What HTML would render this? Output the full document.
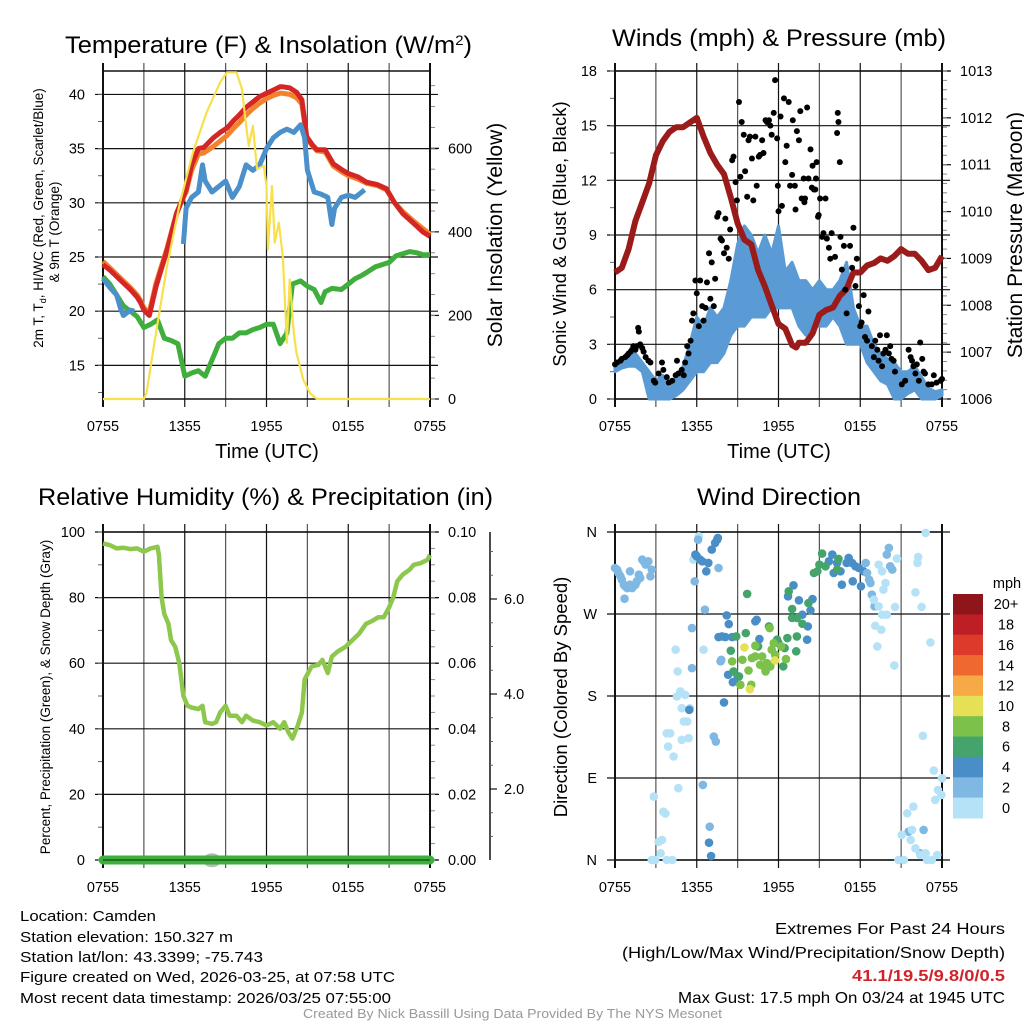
<!DOCTYPE html>
<html><head><meta charset="utf-8"><style>
html,body{margin:0;padding:0;background:#fff;}
svg{display:block;font-family:"Liberation Sans",Arial,sans-serif;}
</style></head><body>
<svg id="fig" width="1024" height="1024" viewBox="0 0 1024 1024" xmlns="http://www.w3.org/2000/svg">
<rect width="1024" height="1024" fill="#fff"/>
<g id="layer"></g>
<!-- titles -->
<text x="65" y="53" font-size="24" textLength="407" lengthAdjust="spacingAndGlyphs">Temperature (F) &amp; Insolation (W/m<tspan dy="-8" font-size="14">2</tspan><tspan dy="8">)</tspan></text>
<text x="612" y="46" font-size="24" textLength="334" lengthAdjust="spacingAndGlyphs">Winds (mph) &amp; Pressure (mb)</text>
<text x="38" y="505" font-size="24" textLength="455" lengthAdjust="spacingAndGlyphs">Relative Humidity (%) &amp; Precipitation (in)</text>
<text x="697" y="505" font-size="24" textLength="164" lengthAdjust="spacingAndGlyphs">Wind Direction</text>
<!-- axis titles -->
<text x="267" y="458" font-size="20" text-anchor="middle">Time (UTC)</text>
<text x="779" y="458" font-size="20" text-anchor="middle">Time (UTC)</text>
<text transform="translate(43,218) rotate(-90)" font-size="13.5" text-anchor="middle">2m T, T<tspan dy="3" font-size="9">d</tspan><tspan dy="-3">, HI/WC (Red, Green, Scarlet/Blue)</tspan></text>
<text transform="translate(59,232) rotate(-90)" font-size="13.5" text-anchor="middle">&amp; 9m T (Orange)</text>
<text transform="translate(502,235) rotate(-90)" font-size="21" text-anchor="middle">Solar Insolation (Yellow)</text>
<text transform="translate(566,234) rotate(-90)" font-size="18.5" text-anchor="middle">Sonic Wind &amp; Gust (Blue, Black)</text>
<text transform="translate(1022,235) rotate(-90)" font-size="21" text-anchor="middle">Station Pressure (Maroon)</text>
<text transform="translate(50,697) rotate(-90)" font-size="13.5" text-anchor="middle">Percent, Precipitation (Green), &amp; Snow Depth (Gray)</text>
<text transform="translate(567,697) rotate(-90)" font-size="18.5" text-anchor="middle">Direction (Colored By Speed)</text>
<!-- footer -->
<g font-size="15">
<text x="20" y="921" textLength="136" lengthAdjust="spacingAndGlyphs">Location: Camden</text>
<text x="20" y="942" textLength="213" lengthAdjust="spacingAndGlyphs">Station elevation: 150.327 m</text>
<text x="20" y="962" textLength="243" lengthAdjust="spacingAndGlyphs">Station lat/lon: 43.3399; -75.743</text>
<text x="20" y="982" textLength="375" lengthAdjust="spacingAndGlyphs">Figure created on Wed, 2026-03-25, at 07:58 UTC</text>
<text x="20" y="1003" textLength="371" lengthAdjust="spacingAndGlyphs">Most recent data timestamp: 2026/03/25 07:55:00</text>
</g>
<g font-size="16">
<text x="775" y="934" textLength="230" lengthAdjust="spacingAndGlyphs">Extremes For Past 24 Hours</text>
<text x="622" y="958" textLength="383" lengthAdjust="spacingAndGlyphs">(High/Low/Max Wind/Precipitation/Snow Depth)</text>
<text x="852" y="981" textLength="153" lengthAdjust="spacingAndGlyphs" font-weight="bold" fill="#d2232a">41.1/19.5/9.8/0/0.5</text>
<text x="678" y="1003" textLength="327" lengthAdjust="spacingAndGlyphs">Max Gust: 17.5 mph On 03/24 at 1945 UTC</text>
</g>
<text x="303" y="1018" font-size="12.5" fill="#999" textLength="419" lengthAdjust="spacingAndGlyphs">Created By Nick Bassill Using Data Provided By The NYS Mesonet</text>
</svg>
<script>
// ---------- DATA ----------
const xTickLabels = ["0755","1355","1955","0155","0755"];
const tempT   = [0,0.5,1,1.5,2,2.5,2.75,3,3.4,3.9,4.7,5.4,6.1,6.5,7,7.4,8.1,8.6,9.1,9.6,10,10.5,11,11.5,12,12.5,13,13.2,13.7,14.2,14.6,14.95,15.4,15.7,16.3,16.9,17.6,18,18.7,19.35,20.1,20.8,21.4,22,22.8,23.5,24];
const tempRed = [24.3,23.8,23.2,22.6,22.0,21.3,20.8,20.1,19.6,22.3,25.6,29.0,31.2,33.5,35.0,35.1,36.0,36.5,36.9,37.6,38.1,38.8,39.3,39.8,40.1,40.4,40.7,40.7,40.6,40.2,39.5,36.1,35.3,34.9,34.9,33.6,33.0,32.7,32.4,31.9,31.7,31.3,30.0,29.0,28.1,27.3,26.9];
const tempOrange = [24.6,24.0,23.4,22.8,22.2,21.5,21.0,20.3,19.9,22.6,25.8,29.1,31.0,33.0,34.5,34.6,35.2,35.7,36.2,36.9,37.4,38.1,38.7,39.2,39.6,39.9,40.1,40.1,40.0,39.7,39.1,36.0,35.2,34.8,34.7,33.4,32.8,32.5,32.2,31.8,31.6,31.2,30.0,29.2,28.3,27.6,27.1];
const wcT    = [0,0.5,1,1.3,1.5,2,2.3,null,5.9,6.1,6.5,7,7.3,7.5,8,8.5,9,9.5,10,10.5,11,11.5,12,12.5,13,13.5,14,14.5,14.8,15,15.5,16,16.5,16.8,17,17.5,18,18.5,19.2];
const wcBlue = [23.0,22.2,21.5,20.2,19.6,20.1,20.0,null,26.2,29.5,30.5,31.0,33.5,32.0,31.0,31.5,32.0,30.5,31.5,33.5,33.0,33.5,35.0,36.0,36.5,36.8,36.5,37.2,36.0,33.0,31.0,30.8,30.5,28.0,29.5,30.5,30.7,30.5,31.2];
const dewT   = [0,0.5,1,1.5,2,2.5,3,3.5,4,4.5,5,5.5,6,6.5,7,7.5,8,8.5,9,9.5,10,10.5,11,11.5,12,12.5,13,13.5,13.9,14.5,15,15.5,16,16.3,16.8,17.5,18,18.5,19,19.5,20,20.5,21,21.5,22,22.5,23,23.5,24];
const dewGreen = [23.2,22.5,21.5,20.5,20.0,19.5,18.5,18.8,19.2,17.5,17.3,17.0,14.0,14.3,14.5,14.0,15.5,17.0,17.5,17.5,18.0,18.0,18.3,18.5,18.8,18.8,17.0,18.0,22.5,22.8,22.3,22.0,20.8,21.8,22.1,22.0,22.5,23.0,23.3,23.7,24.1,24.3,24.5,25.1,25.3,25.5,25.4,25.2,25.2];
const solarT = [0,3,3.2,3.7,4.7,5.65,6.6,7.6,8.6,9.1,9.8,10.2,10.5,10.7,11,11.3,11.8,12,12.1,12.4,12.6,12.9,13.2,13.5,13.7,14,14.2,14.7,15.2,15.7,24];
const solarW = [0,0,15,120,318,470,590,686,758,782,782,742,654,606,654,550,558,510,358,510,374,422,342,134,286,158,110,46,14,0,0];
const tempTicks = [15,20,25,30,35,40];
const solarTicks = [0,200,400,600];
const pressT = [0,0.5,1,1.5,2,2.5,3,3.5,4,4.5,5,5.5,6,6.5,7,7.5,8,8.5,9,9.5,10,10.5,11,11.5,12,12.5,13,13.3,13.5,14,14.5,15,15.5,16,16.5,17,17.5,18,18.5,19,19.5,20,20.5,21,21.5,22,22.5,23,23.5,24];
const pressMb = [1008.7,1008.8,1009.2,1009.8,1010.2,1010.6,1011.2,1011.5,1011.7,1011.8,1011.8,1011.9,1012.0,1011.6,1011.25,1011.0,1010.8,1010.3,1009.75,1009.4,1009.3,1008.75,1008.4,1008.0,1007.6,1007.5,1007.15,1007.1,1007.2,1007.2,1007.4,1007.8,1007.9,1007.95,1008.2,1008.35,1008.7,1008.7,1008.85,1008.9,1009.0,1008.95,1009.05,1009.2,1009.1,1009.1,1008.95,1008.75,1008.8,1009.05];
const windT  = [0,0.5,1,1.5,2,2.5,3,3.5,4,4.5,5,5.5,6,6.5,7,7.5,8,8.5,9,9.5,10,10.5,11,11.5,12,12.5,13,13.5,14,14.5,15,15.5,16,16.5,17,17.5,18,18.5,19,19.5,20,20.5,21,21.5,22,22.5,23,23.5,24];
const windLo = [1.5,1.7,1.8,1.8,1.5,0,0,0,0,0.2,0.5,1,1.5,1.5,2,2,2.5,3.5,4,4,4.5,4.5,4.5,5,5,5,5,4,3.5,4,4,4,4.5,4,3,3,3,2,1.5,1,0.8,0,0,0.3,0.5,0,0,0,0.2];
const windHi = [2,2,2.3,2.5,2,1.5,1,1.3,0.5,1.2,1.8,3,4.5,4,5,4.5,5,6.5,8.5,9.5,9,8,9,8,9.5,7,7.5,6.5,6.5,6,6.5,6,6,6.5,7.5,5,4,4,3,2.5,2.2,2,1.5,1.5,1.8,1.2,0.6,0.4,0.5];
const gustT = [0,0.15,0.4,0.5,0.75,0.9,1.0,1.15,1.25,1.35,1.5,1.6,1.7,1.75,1.85,2.0,2.1,2.25,2.45,2.6,2.85,2.95,3.2,3.45,3.55,3.8,3.95,4.2,4.45,4.55,4.65,4.9,5.05,5.15,5.3,5.4,5.55,5.65,5.75,5.9,6.0,6.15,6.25,6.4,6.5,6.65,6.75,6.9,7.0,7.1,7.25,7.35,7.5,7.6,7.75,7.85,8.0,8.1,8.2,8.35,8.45,8.6,8.7,8.85,8.95,9.1,9.2,9.3,9.45,9.55,9.7,9.8,9.9,10.05,10.15,10.3,10.4,10.55,10.65,10.8,10.9,11.05,11.15,11.3,11.4,11.5,11.65,11.75,11.9,11.95,12.0,12.15,12.25,12.4,12.5,12.6,12.75,12.85,13.0,13.05,13.2,13.25,13.35,13.5,13.6,13.7,13.85,13.9,13.95,14.1,14.2,14.35,14.45,14.5,14.6,14.7,14.75,14.8,14.9,14.95,15.05,15.2,15.3,15.45,15.55,15.7,15.8,15.9,16.15,16.3,16.35,16.4,16.5,16.55,16.65,16.8,16.9,17.0,17.25,17.4,17.5,17.65,17.75,17.9,18.0,18.1,18.25,18.35,18.5,18.6,18.85,19.0,19.1,19.25,19.35,19.45,19.6,19.7,19.85,19.95,20.1,20.2,20.3,20.45,20.55,21.05,21.3,21.55,21.7,21.8,21.9,22.05,22.15,22.3,22.4,22.55,22.65,22.75,23.0,23.25,23.4,23.6,23.9,24.0];
const gustV = [1.9,2.0,2.1,2.2,2.3,2.4,2.5,2.6,2.7,2.9,2.7,2.9,3.9,3.7,3.0,2.8,2.6,2.3,2.1,2.0,1.0,0.9,1.4,2.0,1.6,1.2,0.9,1.0,1.3,2.1,1.4,1.6,1.3,2.0,2.9,2.5,3.2,4.3,4.7,6.5,5.8,4.0,6.5,5.1,4.3,5.0,6.4,8.0,5.5,7.5,5.1,6.6,10.0,10.2,8.8,8.7,8.0,9.9,8.3,7.7,9.3,13.1,13.3,11.9,10.9,16.3,12.2,15.2,14.5,12.5,11.1,14.2,14.4,13.2,10.9,14.4,11.7,13.3,13.4,14.2,13.5,15.3,15.2,15.3,15.0,14.5,15.7,17.5,14.3,11.7,10.3,15.5,10.6,16.5,13.0,13.9,16.3,11.7,12.3,15.3,11.7,10.4,14.7,14.2,15.8,11.0,12.1,10.8,11.0,16.0,12.1,13.7,11.6,12.8,11.5,11.5,12.1,13.0,10.0,10.1,11.0,8.9,9.1,11.0,8.8,8.3,7.7,9.1,7.8,14.6,15.7,15.2,13.0,8.9,7.1,8.4,6.0,4.7,8.4,7.2,9.4,6.2,7.7,5.1,4.0,4.2,5.7,3.4,3.2,4.8,2.9,2.3,3.2,2.7,2.1,3.5,1.8,2.5,2.7,3.5,2.5,2.9,2.2,2.1,1.5,0.8,1.0,2.7,2.3,2.1,1.8,1.4,1.9,1.0,3.1,2.2,1.5,1.4,0.8,0.8,1.3,0.9,1.0,1.1];
const windTicks = [0,3,6,9,12,15,18];
const pressTicks = [1006,1007,1008,1009,1010,1011,1012,1013];
const rhT = [0,0.5,1,1.5,2,2.5,3,3.5,4,4.1,4.3,4.5,4.8,5,5.3,5.6,5.9,6.2,6.5,7,7.3,7.5,8,8.3,8.6,9,9.3,9.8,10.2,10.5,11,11.5,12,12.5,13,13.3,13.6,13.9,14.3,14.6,14.8,15.3,15.8,16.1,16.5,16.8,17.2,17.8,18.3,18.8,19.3,19.8,20.2,20.6,21,21.3,21.6,22,22.5,22.8,23.3,23.8,24];
const rhPct = [96.5,96,95,95.2,94.8,95,94,95,95.5,93,80,75,72,67,65,60,50,47,46.5,46,47,42,41.5,42,45,47,44,44,42,44,42.5,42,41,42,40,42,39,37,41,45,55,59,59.5,61,57,62,63.5,65,67,69,72,73,74,74,77,80,85,87,88.5,90,90.5,91.5,93];
const precipT = [0,24];
const precipIn = [0,0];
const snowT = [8];
const snowDepth = [0.5];
const rhTicks = [0,20,40,60,80,100];
const precipTicks = [0,0.02,0.04,0.06,0.08,0.10];
const snowTicks = [2,4,6];
const dirT = [0,0.15,0.25,0.4,0.5,0.65,0.75,0.9,1.0,1.1,1.25,1.35,1.5,1.6,1.75,1.85,2.0,2.1,2.25,2.35,2.45,2.6,2.7,0.7,1.1,
 2.85,3.2,3.35,3.45,3.55,3.7,2.7,2.95,3.8,4.2,4.65,3.8,3.9,4.05,4.3,4.45,4.6,4.55,4.8,4.9,5.05,5.15,5.3,4.9,5.4,5.5,6.5,5.75,6.15,
 5.65,5.65,5.85,6.6,6.45,6.95,7.25,7.4,7.6,6.1,7.75,7.8,
 5.9,6.0,6.25,6.4,6.7,6.85,7.1,7.35,7.5,7.55,5.45,6.9,7.05,8.0,8.2,8.35,7.6,7.85,8.1,8.3,8.6,8.65,9.0,10.3,10.4,10.6,12.0,12.7,13.1,13.5,14.15,14.1,14.5,14.35,13.75,15.95,15.7,16.05,16.3,16.65,17.15,17.4,17.65,17.9,17.0,16.55,17.45,18.05,18.25,
 18.4,18.5,18.65,18.75,18.85,19.05,19.95,20.1,20.2,20.35,21.55,22.65,22.4,
 9.7,12.75,13.0,13.0,13.35,13.75,14.2,13.35,12.65,12.35,13.3,14.6,14.85,15.0,15.2,15.45,16.3,16.4,8.9,8.5,9.6,10.5,11.3,11.9,12.45,8.7,9.1,
 8.6,9.35,9.8,10.05,10.3,10.65,10.8,11.05,11.15,11.4,11.5,11.65,11.75,12.2,12.55,9.2,10.0,10.3,10.85,11.35,
 9.5,9.9,11.75,
 19.35,19.6,19.85,19.7,19.0,19.35,19.6,19.95,19.1,19.55,19.25,20.55,20.5,20.7,22.05,22.2,22.25,22.5,22.8,23.15,22.6,23.4,24.0,23.7,23.95,23.5,21.9,21.45,21.05,21.8,21.7,22.05,22.4,22.8,22.9,23.25,23.65,20.8,21.2];
const dirDeg = [320.5,318.7,315,311.4,307.7,302.2,300.4,298.5,300.4,302.2,298.5,300.4,302.2,305.9,313.2,309.5,329.7,327.8,324.2,326,327.8,311.4,318.7,286.8,316.8,
 69.6,20,7.3,22,53,51,0,0,0,0,78.8,139,124.5,139,113.6,230.8,207,179.5,185,166.7,152,181.3,152,131.9,133.7,166.7,230.8,329.7,355.3,
 254.6,210.6,305.9,274.7,82.4,36.6,135.5,130,320.5,351.6,218,219.8,
 335.2,333.3,329.7,327.8,316.8,326,340.7,348,351.6,353.5,164.8,19,4.4,172.9,268.5,259,244.7,245.4,244.7,203.3,244.7,195.2,201.5,261.9,263.7,242.5,238,289.4,301.5,285,256.4,241.8,286.4,274,269.2,335.2,327.8,315,326,302.2,331.5,326,322.3,320.5,326,316.8,305.9,300.4,316.8,
 326,315,307.7,304,291.2,278.4,335.2,342.5,322.3,318.7,31.1,33,7.3,
 292,294.9,275.5,265.6,265.6,259.3,282,245.4,243.6,212.5,229,315,316.8,324.2,336.3,322.3,318.7,330.4,245.4,229.7,249,234.4,256.4,241.8,232.6,207,201.5,
 218,219.8,208,221.6,235.2,214.3,223.4,207,216,212.5,230.8,238,225.3,234.4,220.5,192.3,192.3,223.4,213.2,254.6,
 233.3,187.5,219,
 324.2,316.8,304,296.7,285.7,278.4,269.2,269.2,257.1,252.7,234.4,277.7,213.5,330.8,293.8,326,332.6,277.7,359,238.8,136.3,98.2,89.7,76.9,71.4,65.9,58.6,51.3,27.5,33,22,12.8,5.5,7.3,0,0,5.5,0,0];
const dirSpeed = [3,3,3,3,3,3,3,3,3,3,3,3,3,3,3,3,3,3,3,3,3,3,3,3,3,
 1,1,1,1,1,1,1,1,1,1,1,1,1,1,1,1,1,1,1,1,1,1,1,1,1,1,1,1,1,
 3,3,3,3,3,3,3,3,3,3,3,3,
 5,5,5,5,5,5,5,5,5,5,5,5,5,5,5,5,5,5,5,5,5,5,5,5,5,5,5,5,5,5,5,5,5,5,5,5,5,5,5,5,5,5,5,5,5,5,5,5,5,
 3,3,3,3,3,3,3,3,3,3,3,3,3,
 7,7,7,7,7,7,7,7,7,7,7,7,7,7,7,7,7,7,7,7,7,7,7,7,7,7,7,
 9,9,9,9,9,9,9,9,9,9,9,9,9,9,9,9,9,9,9,9,
 11,11,11,
 1,1,1,1,1,1,1,1,1,1,1,1,1,1,1,1,1,1,1,1,1,1,1,1,1,1,1,1,1,1,1,1,1,1,1,1,1,1,1];
const dirTickLabels = ["N","E","S","W","N"];
const dirTicks = [0,90,180,270,360];
const speedLevels = ["0","2","4","6","8","10","12","14","16","18","20+"];
const speedColors = ["#b5e2f6","#7fb8e3","#4a8ec7","#45a46b","#7bc14a","#e6e056","#f6a945","#ef6830","#de3a2b","#be1f26","#8e161b"];

// ---------- DRAWING ----------
const NS = "http://www.w3.org/2000/svg";
const layer = document.getElementById("layer");
function el(tag, attrs, parent){
  const e = document.createElementNS(NS, tag);
  for (const k in attrs) e.setAttribute(k, attrs[k]);
  (parent||layer).appendChild(e);
  return e;
}
function scale(d0,d1,r0,r1){ return v => r0 + (v-d0)/(d1-d0)*(r1-r0); }
function linePath(xs, ys, sx, sy){
  let d = "", pen = false;
  for (let i=0;i<xs.length;i++){
    if (xs[i]===null || ys[i]===null){ pen=false; continue; }
    d += (pen?"L":"M") + sx(xs[i]).toFixed(1) + "," + sy(ys[i]).toFixed(1);
    pen = true;
  }
  return d;
}
function panelFrame(p, name){
  const g = el("g", {});
  
  
  for (let h=0; h<=24; h+=3){
    const x = p.sx(h);
    const ln = el("line", {x1:x, x2:x, y1:p.top-8, y2:p.bottom+8, stroke:(h%6===3?"#555":"#111"), "stroke-width":(h===0||h===24)?2:1.2}, g);
    
    
  }
  xTickLabels.forEach((lab,i)=>{
    const t = el("text", {x:p.sx(i*6), y:p.bottom+32, "font-size":14.5, "text-anchor":"middle"}, g);
    t.textContent = lab;
    
    
  });
  return g;
}
function leftAxis(p, ticks, sy, labels, name, minorStep){
  const g = el("g", {});
  
  
  ticks.forEach((v,i)=>{
    const y = sy(v);
    el("line", {x1:p.left-8, x2:p.right+8, y1:y, y2:y, stroke:"#111", "stroke-width":1.2}, g);
    const t = el("text", {x:p.left-18, y:y+5, "font-size":14.5, "text-anchor":"end"}, g);
    t.textContent = labels ? labels[i] : v;
    
    
  });
  if (minorStep){
    for (let v=ticks[0]-minorStep*4; v<=ticks[ticks.length-1]+minorStep*4; v+=minorStep){
      const y = sy(v);
      if (y<p.top-0.5 || y>p.bottom+0.5) continue;
      el("line", {x1:p.left-5, x2:p.left, y1:y, y2:y, stroke:"#666", "stroke-width":1}, g);
    }
  }
}
function rightAxis(p, ticks, sy, fmt, name, minorStep){
  const g = el("g", {});
  
  
  ticks.forEach(v=>{
    const y = sy(v);
    el("line", {x1:p.right, x2:p.right+9, y1:y, y2:y, stroke:"#111", "stroke-width":1.2}, g);
    const t = el("text", {x:p.right+18, y:y+5, "font-size":14.5}, g);
    t.textContent = fmt(v);
    
    
  });
  if (minorStep){
    for (let v=ticks[0]-minorStep*6; v<=ticks[ticks.length-1]+minorStep*6; v+=minorStep){
      const y = sy(v);
      if (y<p.top-0.5 || y>p.bottom+0.5) continue;
      el("line", {x1:p.right, x2:p.right+5, y1:y, y2:y, stroke:"#888", "stroke-width":1}, g);
    }
  }
}
function border(p){
  el("line",{x1:p.left,x2:p.right,y1:p.top,y2:p.top,stroke:"#111","stroke-width":1.5});
  el("line",{x1:p.left,x2:p.right,y1:p.bottom,y2:p.bottom,stroke:"#111","stroke-width":1.5});
  el("line",{x1:p.left,x2:p.left,y1:p.top-8,y2:p.bottom+8,stroke:"#111","stroke-width":2});
  el("line",{x1:p.right,x2:p.right,y1:p.top-8,y2:p.bottom+8,stroke:"#111","stroke-width":2});
}

// ===== Panel 1 =====
const p1 = {left:103, right:430, top:71, bottom:399};
p1.sx = scale(0,24,p1.left,p1.right);
const p1y = scale(11.9,42.16,p1.bottom,p1.top);
const p1r = scale(0,785,p1.bottom,p1.top);
panelFrame(p1,"temperature");
leftAxis(p1,tempTicks,p1y,null,"temperature",2.5);
rightAxis(p1,solarTicks,p1r,v=>v,"insolation",50);
border(p1);
{
  let s;
  s = el("path",{d:linePath(dewT,dewGreen,p1.sx,p1y),fill:"none",stroke:"#3fae3c","stroke-width":5,"stroke-linejoin":"round"});
   
  s = el("path",{d:linePath(tempT,tempOrange,p1.sx,p1y),fill:"none",stroke:"#f2822c","stroke-width":5,"stroke-linejoin":"round"});
   
  s = el("path",{d:linePath(tempT,tempRed,p1.sx,p1y),fill:"none",stroke:"#d52626","stroke-width":5,"stroke-linejoin":"round"});
   
  s = el("path",{d:linePath(wcT,wcBlue,p1.sx,p1y),fill:"none",stroke:"#4b8fcb","stroke-width":5,"stroke-linejoin":"round"});
   
  s = el("path",{d:linePath(solarT,solarW,p1.sx,p1r),fill:"none",stroke:"#f8e04c","stroke-width":2.2,"stroke-linejoin":"round"});
   
}

// ===== Panel 2 =====
const p2 = {left:615, right:942, top:71, bottom:399};
p2.sx = scale(0,24,p2.left,p2.right);
const p2y = scale(0,18,p2.bottom,p2.top);
const p2r = scale(1006,1013,p2.bottom,p2.top);
panelFrame(p2,"winds");
leftAxis(p2,windTicks,p2y,null,"winds",1.5);
rightAxis(p2,pressTicks,p2r,v=>v,"pressure",0.2);
border(p2);
{
  let d = "";
  for (let i=0;i<windT.length;i++) d += (i?"L":"M")+p2.sx(windT[i]).toFixed(1)+","+p2y(windHi[i]).toFixed(1);
  for (let i=windT.length-1;i>=0;i--) d += "L"+p2.sx(windT[i]).toFixed(1)+","+p2y(windLo[i]).toFixed(1);
  d += "Z";
  const band = el("path",{d:d,fill:"#5a9bd5",stroke:"#5a9bd5","stroke-width":3,"stroke-linejoin":"round"});
   
  const pl = el("path",{d:linePath(pressT,pressMb,p2.sx,p2r),fill:"none",stroke:"#9b1a1a","stroke-width":6,"stroke-linejoin":"round"});
   
  for (let i=0;i<gustT.length;i++){
    const c = el("circle",{cx:p2.sx(gustT[i]),cy:p2y(gustV[i]),r:3,fill:"#000"});
    
    
  }
}

// ===== Panel 3 =====
const p3 = {left:103, right:430, top:532, bottom:860};
p3.sx = scale(0,24,p3.left,p3.right);
const p3y = scale(0,100,p3.bottom,p3.top);
const p3r = scale(0,0.1,p3.bottom,p3.top);
const p3s = scale(2,6,789,599);
panelFrame(p3,"humidity");
leftAxis(p3,rhTicks,p3y,null,"humidity",10);
rightAxis(p3,precipTicks,p3r,v=>v.toFixed(2),"precipitation",0.005);
border(p3);
{
  const g = el("g",{});
   
  el("line",{x1:490,x2:490,y1:532,y2:860,stroke:"#111","stroke-width":1.5},g);
  for (let v=0.5; v<=7.5; v+=0.5){
    const y = p3s(v); if (y<532||y>860) continue;
    el("line",{x1:490,x2:493,y1:y,y2:y,stroke:"#666","stroke-width":1},g);
  }
  snowTicks.forEach(v=>{
    const y = p3s(v);
    el("line",{x1:490,x2:497,y1:y,y2:y,stroke:"#111","stroke-width":1.2},g);
    const t = el("text",{x:504,y:y+5,"font-size":14.5},g);
    t.textContent = v.toFixed(1);
     
  });
  for (let i=0;i<snowT.length;i++){
    const c = el("ellipse",{cx:p3.sx(snowT[i]),cy:p3s(snowDepth[i]),rx:9,ry:7,fill:"#bbb"});
     
  }
  const pr = el("path",{d:linePath(precipT,precipIn,p3.sx,p3r),fill:"none",stroke:"#3daf3d","stroke-width":9,"stroke-linecap":"round"});
   
  el("line",{x1:p3.left,x2:p3.right,y1:p3.bottom,y2:p3.bottom,stroke:"#1a5a1a","stroke-width":1.5});
  const rh = el("path",{d:linePath(rhT,rhPct,p3.sx,p3y),fill:"none",stroke:"#8dc84c","stroke-width":4.5,"stroke-linejoin":"round"});
   
}

// ===== Panel 4 =====
const p4 = {left:615, right:942, top:532, bottom:860};
p4.sx = scale(0,24,p4.left,p4.right);
const p4y = scale(0,360,p4.bottom,p4.top);
panelFrame(p4,"direction");
leftAxis(p4,dirTicks,p4y,dirTickLabels,"direction",0);
border(p4);
for (let i=0;i<dirT.length;i++){
  const k = Math.min(10, Math.floor(dirSpeed[i]/2));
  const c = el("circle",{cx:p4.sx(dirT[i]),cy:p4y(dirDeg[i]),r:4.3,fill:speedColors[k]});
  
  
}
{
  const g = el("g",{});
   
  const t0 = el("text",{x:1007,y:588,"font-size":14.5,"text-anchor":"middle"},g);
  t0.textContent = "mph";
   
  const n = speedLevels.length, top = 594, h = (818-594)/n;
  for (let i=0;i<n;i++){
    const idx = n-1-i;
    const r = el("rect",{x:953,y:top+i*h,width:30,height:h+0.5,fill:speedColors[idx]},g);
     
    const t = el("text",{x:1006,y:top+i*h+h/2+5,"font-size":14.5,"text-anchor":"middle"},g);
    t.textContent = speedLevels[idx];
     
  }
}
</script>
</body></html>
